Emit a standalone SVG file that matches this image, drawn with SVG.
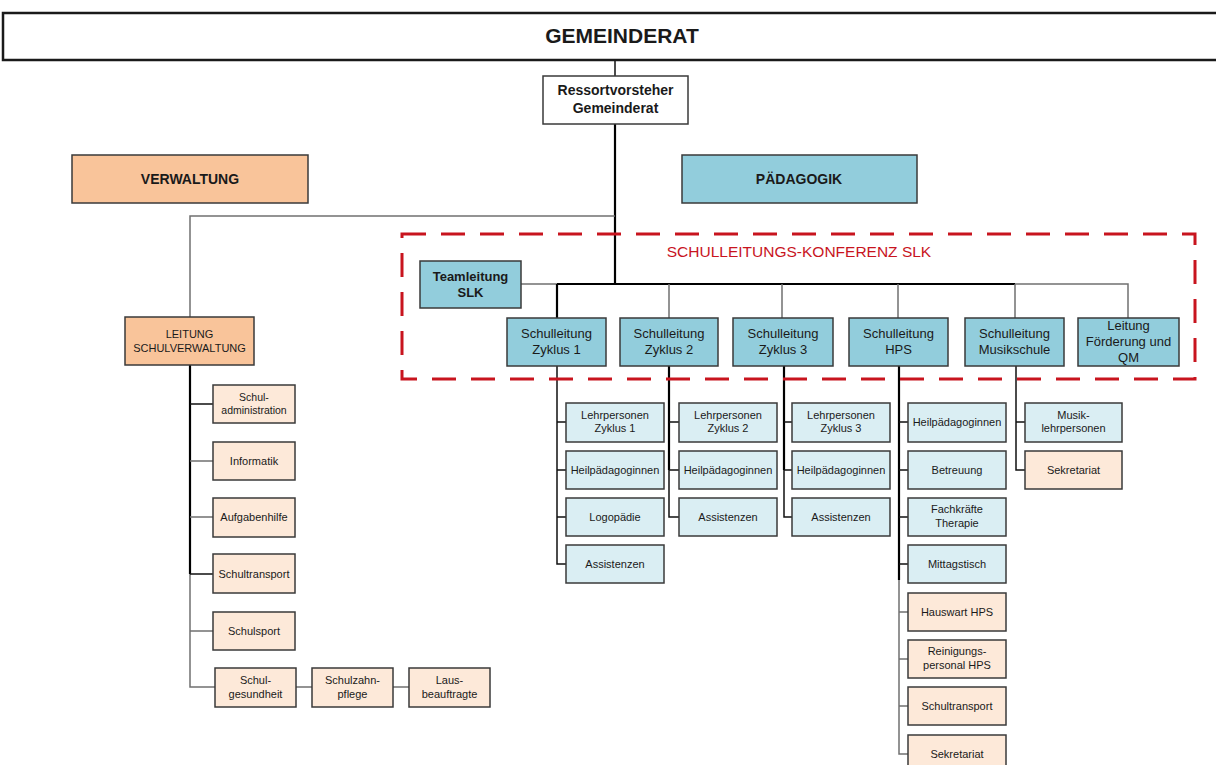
<svg xmlns="http://www.w3.org/2000/svg" width="1216" height="765" viewBox="0 0 1216 765">
<style>
text{font-family:"Liberation Sans",Arial,sans-serif;fill:#1a1a1a;text-anchor:middle}
.b{font-weight:bold}
.s{font-size:11px}
.m{font-size:13px}
.box{stroke:#3a3a3a;stroke-width:1.5}
.pk{fill:#FDE9D9}
.lb{fill:#DAEEF3}
.bl{fill:#92CDDC}
.or{fill:#F9C49A}
.g{stroke:#707070;stroke-width:1.5;fill:none}
.k{stroke:#000;stroke-width:2.2;fill:none}
.kt{stroke:#111;stroke-width:1.5;fill:none}
</style>
<rect width="1216" height="765" fill="#fff"/>
<g id="connectors">
<path class="kt" d="M615 60V76"/>
<path class="k" d="M615 124V284"/>
<path class="g" d="M615 216H190V317"/>
<path class="g" d="M521 284H1128V318"/>
<path class="k" d="M557 284H1015"/>
<path class="k" d="M557 284V318"/>
<path class="g" d="M669 284V318M782 284V318M898 284V318M1015 284V318"/>
<!-- left column -->
<path class="k" d="M190 365V574"/>
<path class="g" d="M190 574V687H215"/>
<path class="kt" d="M190 404H213M190 574H213"/>
<path class="g" d="M190 461H213M190 517H213M190 631H213M296 687H312M393 687H409"/>
<!-- Zyklus 1 -->
<path class="kt" d="M557 366V564H566"/>
<path class="kt" d="M557 422H566M557 470H566M557 517H566"/>
<!-- Zyklus 2 -->
<path class="k" d="M669 366V470"/>
<path class="kt" d="M669 470V517H679M669 422H679M669 470H679"/>
<!-- Zyklus 3 -->
<path class="k" d="M784 366V470"/>
<path class="kt" d="M784 470V517H792M784 422H792M784 470H792"/>
<!-- HPS -->
<path class="k" d="M899 366V580"/>
<path class="g" d="M899 580V754H908"/>
<path class="kt" d="M899 422H908M899 470H908M899 517H908M899 564H908"/>
<path class="g" d="M899 612H908M899 659H908M899 706H908"/>
<!-- Musikschule -->
<path class="kt" d="M1016 366V470H1025M1016 422H1025"/>
</g>
<g id="slk-frame">
<rect x="402" y="234" width="793" height="145" fill="none" stroke="#C8141E" stroke-width="3" stroke-dasharray="24 15"/>
<text x="799" y="257" style="font-size:15.5px;fill:#C8141E">SCHULLEITUNGS-KONFERENZ SLK</text>
</g>
<g id="gemeinderat">
<rect x="3" y="13" width="1225" height="47" fill="#fff" stroke="#1a1a1a" stroke-width="2.5"/>
<text x="622" y="43" class="b" style="font-size:21px">GEMEINDERAT</text>
</g>
<g id="ressortvorsteher">
<rect class="box" x="543" y="76" width="145" height="48" fill="#fff"/>
<text x="615.5" y="95" class="b" style="font-size:14px">Ressortvorsteher</text>
<text x="615.5" y="113" class="b" style="font-size:14px">Gemeinderat</text>
</g>
<g id="verwaltung">
<rect class="box or" x="72" y="155" width="236" height="48"/>
<text x="190" y="184" class="b" style="font-size:14px">VERWALTUNG</text>
</g>
<g id="paedagogik">
<rect class="box bl" x="682" y="155" width="235" height="48"/>
<text x="799" y="184" class="b" style="font-size:14px">PÄDAGOGIK</text>
</g>
<g id="leitung-schulverwaltung">
<rect class="box or" x="125" y="317" width="129" height="48"/>
<text x="189.5" y="338" class="s">LEITUNG</text>
<text x="189.5" y="352" class="s">SCHULVERWALTUNG</text>
</g>
<g id="teamleitung">
<rect class="box bl" x="420" y="261" width="101" height="47"/>
<text x="470.5" y="281" class="b m">Teamleitung</text>
<text x="470.5" y="297" class="b m">SLK</text>
</g>
<g id="sl-zyklus1">
<rect class="box bl" x="507" y="318" width="99" height="48"/>
<text x="556.5" y="338" class="m">Schulleitung</text>
<text x="556.5" y="354" class="m">Zyklus 1</text>
</g>
<g id="sl-zyklus2">
<rect class="box bl" x="620" y="318" width="98" height="48"/>
<text x="669" y="338" class="m">Schulleitung</text>
<text x="669" y="354" class="m">Zyklus 2</text>
</g>
<g id="sl-zyklus3">
<rect class="box bl" x="733" y="318" width="100" height="48"/>
<text x="783" y="338" class="m">Schulleitung</text>
<text x="783" y="354" class="m">Zyklus 3</text>
</g>
<g id="sl-hps">
<rect class="box bl" x="849" y="318" width="99" height="48"/>
<text x="898.5" y="338" class="m">Schulleitung</text>
<text x="898.5" y="354" class="m">HPS</text>
</g>
<g id="sl-musikschule">
<rect class="box bl" x="965" y="318" width="99" height="48"/>
<text x="1014.5" y="338" class="m">Schulleitung</text>
<text x="1014.5" y="354" class="m">Musikschule</text>
</g>
<g id="leitung-foerderung">
<rect class="box bl" x="1078" y="318" width="101" height="48"/>
<text x="1128.5" y="330" class="m">Leitung</text>
<text x="1128.5" y="346" class="m">Förderung und</text>
<text x="1128.5" y="362" class="m">QM</text>
</g>
<!-- left column -->
<g id="schuladministration">
<rect class="box pk" x="213" y="385" width="82" height="38"/>
<text x="254" y="401" class="s" style="font-size:10.5px">Schul-</text>
<text x="254" y="414" class="s" style="font-size:10.5px">administration</text>
</g>
<g id="informatik">
<rect class="box pk" x="213" y="442" width="82" height="38"/>
<text x="254" y="465" class="s">Informatik</text>
</g>
<g id="aufgabenhilfe">
<rect class="box pk" x="213" y="498" width="82" height="39"/>
<text x="254" y="521" class="s">Aufgabenhilfe</text>
</g>
<g id="schultransport-v">
<rect class="box pk" x="213" y="554" width="82" height="39"/>
<text x="254" y="578" class="s">Schultransport</text>
</g>
<g id="schulsport">
<rect class="box pk" x="213" y="612" width="82" height="38"/>
<text x="254" y="635" class="s">Schulsport</text>
</g>
<g id="schulgesundheit">
<rect class="box pk" x="215" y="668" width="81" height="39"/>
<text x="255.5" y="684" class="s">Schul-</text>
<text x="255.5" y="698" class="s">gesundheit</text>
</g>
<g id="schulzahnpflege">
<rect class="box pk" x="312" y="668" width="81" height="39"/>
<text x="352.5" y="684" class="s">Schulzahn-</text>
<text x="352.5" y="698" class="s">pflege</text>
</g>
<g id="lausbeauftragte">
<rect class="box pk" x="409" y="668" width="81" height="39"/>
<text x="449.5" y="684" class="s">Laus-</text>
<text x="449.5" y="698" class="s">beauftragte</text>
</g>
<!-- Zyklus 1 column -->
<g id="lp-zyklus1">
<rect class="box lb" x="566" y="403" width="98" height="39"/>
<text x="615" y="419" class="s">Lehrpersonen</text>
<text x="615" y="432" class="s">Zyklus 1</text>
</g>
<g id="hp-zyklus1">
<rect class="box lb" x="566" y="451" width="98" height="38"/>
<text x="615" y="474" class="s">Heilpädagoginnen</text>
</g>
<g id="logopaedie">
<rect class="box lb" x="566" y="498" width="98" height="38"/>
<text x="615" y="521" class="s">Logopädie</text>
</g>
<g id="as-zyklus1">
<rect class="box lb" x="566" y="545" width="98" height="38"/>
<text x="615" y="568" class="s">Assistenzen</text>
</g>
<!-- Zyklus 2 column -->
<g id="lp-zyklus2">
<rect class="box lb" x="679" y="403" width="98" height="39"/>
<text x="728" y="419" class="s">Lehrpersonen</text>
<text x="728" y="432" class="s">Zyklus 2</text>
</g>
<g id="hp-zyklus2">
<rect class="box lb" x="679" y="451" width="98" height="38"/>
<text x="728" y="474" class="s">Heilpädagoginnen</text>
</g>
<g id="as-zyklus2">
<rect class="box lb" x="679" y="498" width="98" height="38"/>
<text x="728" y="521" class="s">Assistenzen</text>
</g>
<!-- Zyklus 3 column -->
<g id="lp-zyklus3">
<rect class="box lb" x="792" y="403" width="98" height="39"/>
<text x="841" y="419" class="s">Lehrpersonen</text>
<text x="841" y="432" class="s">Zyklus 3</text>
</g>
<g id="hp-zyklus3">
<rect class="box lb" x="792" y="451" width="98" height="38"/>
<text x="841" y="474" class="s">Heilpädagoginnen</text>
</g>
<g id="as-zyklus3">
<rect class="box lb" x="792" y="498" width="98" height="38"/>
<text x="841" y="521" class="s">Assistenzen</text>
</g>
<!-- HPS column -->
<g id="hp-hps">
<rect class="box lb" x="908" y="403" width="98" height="39"/>
<text x="957" y="426" class="s">Heilpädagoginnen</text>
</g>
<g id="betreuung">
<rect class="box lb" x="908" y="451" width="98" height="38"/>
<text x="957" y="474" class="s">Betreuung</text>
</g>
<g id="fachkraefte">
<rect class="box lb" x="908" y="498" width="98" height="38"/>
<text x="957" y="513" class="s">Fachkräfte</text>
<text x="957" y="527" class="s">Therapie</text>
</g>
<g id="mittagstisch">
<rect class="box lb" x="908" y="545" width="98" height="38"/>
<text x="957" y="568" class="s">Mittagstisch</text>
</g>
<g id="hauswart">
<rect class="box pk" x="908" y="593" width="98" height="38"/>
<text x="957" y="616" class="s">Hauswart HPS</text>
</g>
<g id="reinigung">
<rect class="box pk" x="908" y="640" width="98" height="38"/>
<text x="957" y="655" class="s">Reinigungs-</text>
<text x="957" y="669" class="s">personal HPS</text>
</g>
<g id="schultransport-hps">
<rect class="box pk" x="908" y="687" width="98" height="38"/>
<text x="957" y="710" class="s">Schultransport</text>
</g>
<g id="sekretariat-hps">
<rect class="box pk" x="908" y="735" width="98" height="38"/>
<text x="957" y="758" class="s">Sekretariat</text>
</g>
<!-- Musikschule column -->
<g id="musiklehrpersonen">
<rect class="box lb" x="1025" y="403" width="97" height="39"/>
<text x="1073.5" y="419" class="s">Musik-</text>
<text x="1073.5" y="432" class="s">lehrpersonen</text>
</g>
<g id="sekretariat-musik">
<rect class="box pk" x="1025" y="451" width="97" height="38"/>
<text x="1073.5" y="474" class="s">Sekretariat</text>
</g>
</svg>
